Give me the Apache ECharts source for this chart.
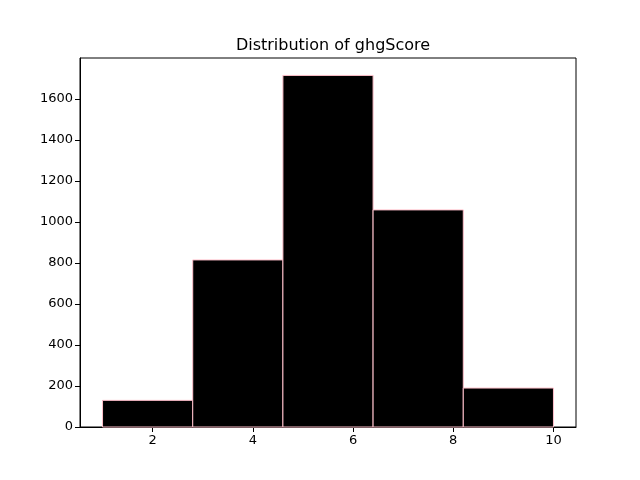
<!DOCTYPE html>
<html>
<head>
<meta charset="utf-8">
<script src="https://cdn.jsdelivr.net/npm/echarts@6/dist/echarts.min.js"></script>
<style>
  html, body { margin: 0; padding: 0; background: #fff; }
  #main { width: 640px; height: 480px; }
</style>
</head>
<body>
<div id="main"></div>
<script>
// histogram bins of ghgScore
var binEdges = [1, 2.8, 4.6, 6.4, 8.2, 10];
var binCounts = [130, 815, 1715, 1059, 190];
var xTicks = [2, 4, 6, 8, 10];
var yTicks = [0, 200, 400, 600, 800, 1000, 1200, 1400, 1600];

var histData = [];
for (var i = 0; i < binCounts.length; i++) {
    histData.push([binEdges[i], binEdges[i + 1], binCounts[i]]);
}

var chart = echarts.init(document.getElementById('main'));
var font = 'DejaVu Sans';

var option = {
    backgroundColor: '#fff',
    animation: false,
    title: {
        text: 'Distribution of ghgScore',
        left: 328,
        textAlign: 'center',
        top: 33,
        textStyle: { fontFamily: font, fontSize: 16, fontWeight: 'normal', color: '#000' }
    },
    grid: {
        left: 80, right: 64, top: 58, bottom: 53,
        show: true, borderColor: '#000', borderWidth: 1, backgroundColor: 'transparent'
    },
    xAxis: {
        type: 'value',
        min: 0.55,
        max: 10.45,
        splitLine: { show: false },
        axisLine: { lineStyle: { color: '#000' } },
        axisTick: { customValues: xTicks, length: 5, lineStyle: { color: '#000' } },
        axisLabel: {
            customValues: xTicks, color: '#000', fontFamily: font, fontSize: 13, margin: 7,
            formatter: function (v) { return String(v); }
        }
    },
    yAxis: {
        type: 'value',
        min: 0,
        max: 1800,
        splitLine: { show: false },
        axisLine: { show: true, lineStyle: { color: '#000' } },
        axisTick: { show: true, customValues: yTicks, length: 5, lineStyle: { color: '#000' } },
        axisLabel: {
            customValues: yTicks, color: '#000', fontFamily: font, fontSize: 13, margin: 7,
            formatter: function (v) { return String(v); }
        }
    },
    series: [{
        type: 'custom',
        data: histData,
        renderItem: function (params, api) {
            var p0 = api.coord([api.value(0), api.value(2)]);
            var p1 = api.coord([api.value(1), 0]);
            return {
                type: 'rect',
                shape: { x: p0[0], y: p0[1], width: p1[0] - p0[0], height: p1[1] - p0[1] },
                style: { fill: '#000', stroke: 'pink', lineWidth: 1 }
            };
        }
    }]
};

chart.setOption(option);
</script>
</body>
</html>
